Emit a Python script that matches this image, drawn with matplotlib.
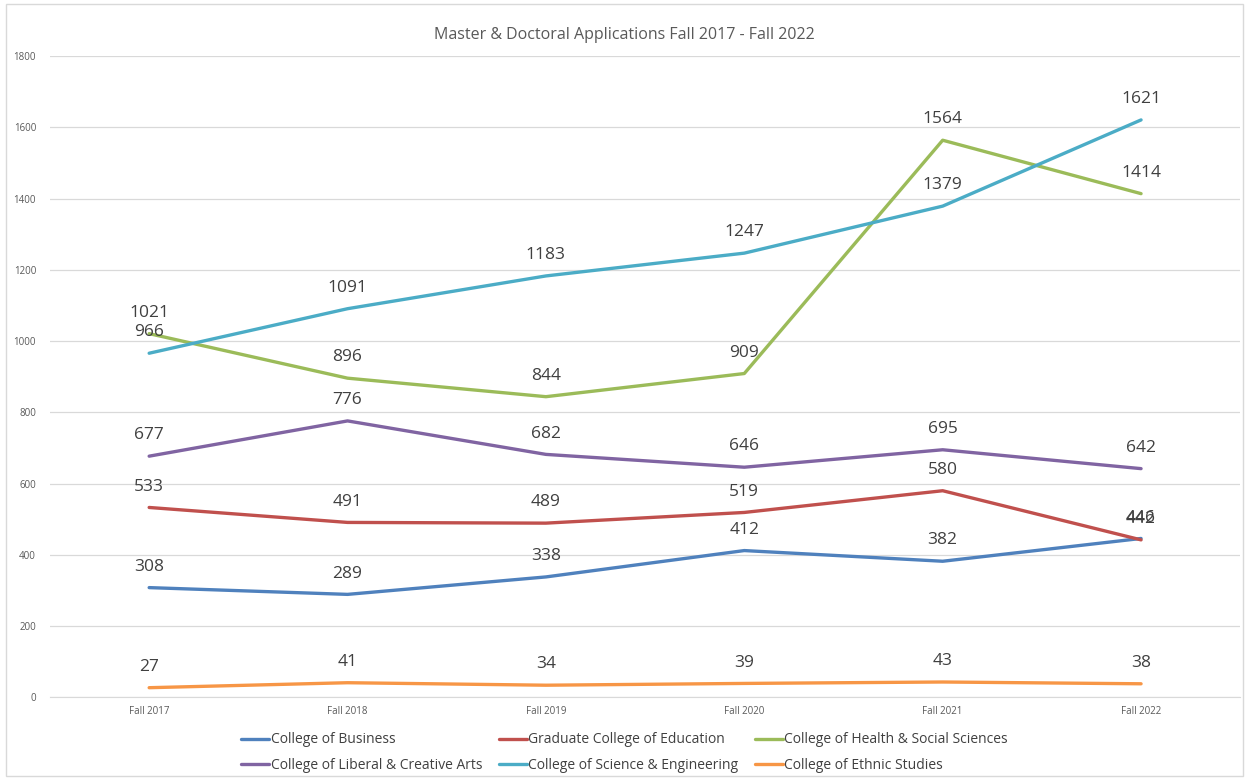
import matplotlib
matplotlib.use("Agg")
import matplotlib.pyplot as plt
from matplotlib.patches import Rectangle

categories = ["Fall 2017", "Fall 2018", "Fall 2019", "Fall 2020", "Fall 2021", "Fall 2022"]
business = [308, 289, 338, 412, 382, 446]
education = [533, 491, 489, 519, 580, 442]
health = [1021, 896, 844, 909, 1564, 1414]
liberal = [677, 776, 682, 646, 695, 642]
science = [966, 1091, 1183, 1247, 1379, 1621]
ethnic = [27, 41, 34, 39, 43, 38]

series_names = ["College of Business", "Graduate College of Education",
                "College of Health & Social Sciences", "College of Liberal & Creative Arts",
                "College of Science & Engineering", "College of Ethnic Studies"]
series_values = [business, education, health, liberal, science, ethnic]
colors = ["#4F81BD", "#C0504D", "#9BBB59", "#8064A2", "#4BACC6", "#F79646"]
y_ticks = [0, 200, 400, 600, 800, 1000, 1200, 1400, 1600, 1800]

plt.rcParams['font.family'] = ['Open Sans', 'DejaVu Sans']

fig = plt.figure(figsize=(12.49, 7.8), dpi=100)
ax = fig.add_axes([0.040, 0.106, 0.953, 0.822])

x = list(range(len(categories)))
lines = []
for name, vals, c in zip(series_names, series_values, colors):
    ln, = ax.plot(x, vals, color=c, lw=2.4, label=name, solid_capstyle='round')
    lines.append(ln)
    for xi, v in zip(x, vals):
        ax.annotate(str(v), (xi, v), xytext=(0, 15), textcoords='offset points',
                    ha='center', va='center', fontsize=12.5, color='#404040')

ax.set_xlim(-0.5, 5.5)
ax.set_ylim(0, 1800)
ax.set_yticks(y_ticks)
ax.set_xticks(x)
ax.set_xticklabels(categories)
ax.tick_params(axis='both', length=0, labelsize=7, labelcolor='#595959')
ax.tick_params(axis='y', pad=10)
ax.tick_params(axis='x', pad=6)
ax.grid(axis='y', color='#D9D9D9', lw=0.9)
ax.set_axisbelow(True)
for s in ['top', 'right', 'left']:
    ax.spines[s].set_visible(False)
ax.spines['bottom'].set_color('#D9D9D9')

fig.suptitle("Master & Doctoral Applications Fall 2017 - Fall 2022", y=0.965,
             fontsize=11.5, color='#595959')

# row-major ordering for a 3-column legend (matplotlib fills column-first)
order = [0, 3, 1, 4, 2, 5]
fig.legend([lines[i] for i in order], [series_names[i] for i in order],
           loc='center', bbox_to_anchor=(0.5, 0.035), ncol=3, frameon=False,
           fontsize=10, handlelength=2.0, handletextpad=0.1, columnspacing=1.2,
           labelspacing=0.75, labelcolor='#404040')

fig.patches.append(Rectangle((0.005, 0.005), 0.99, 0.99, transform=fig.transFigure,
                             fill=False, edgecolor='#D9D9D9', lw=1))

fig.savefig("out.png", dpi=100, facecolor='white')
